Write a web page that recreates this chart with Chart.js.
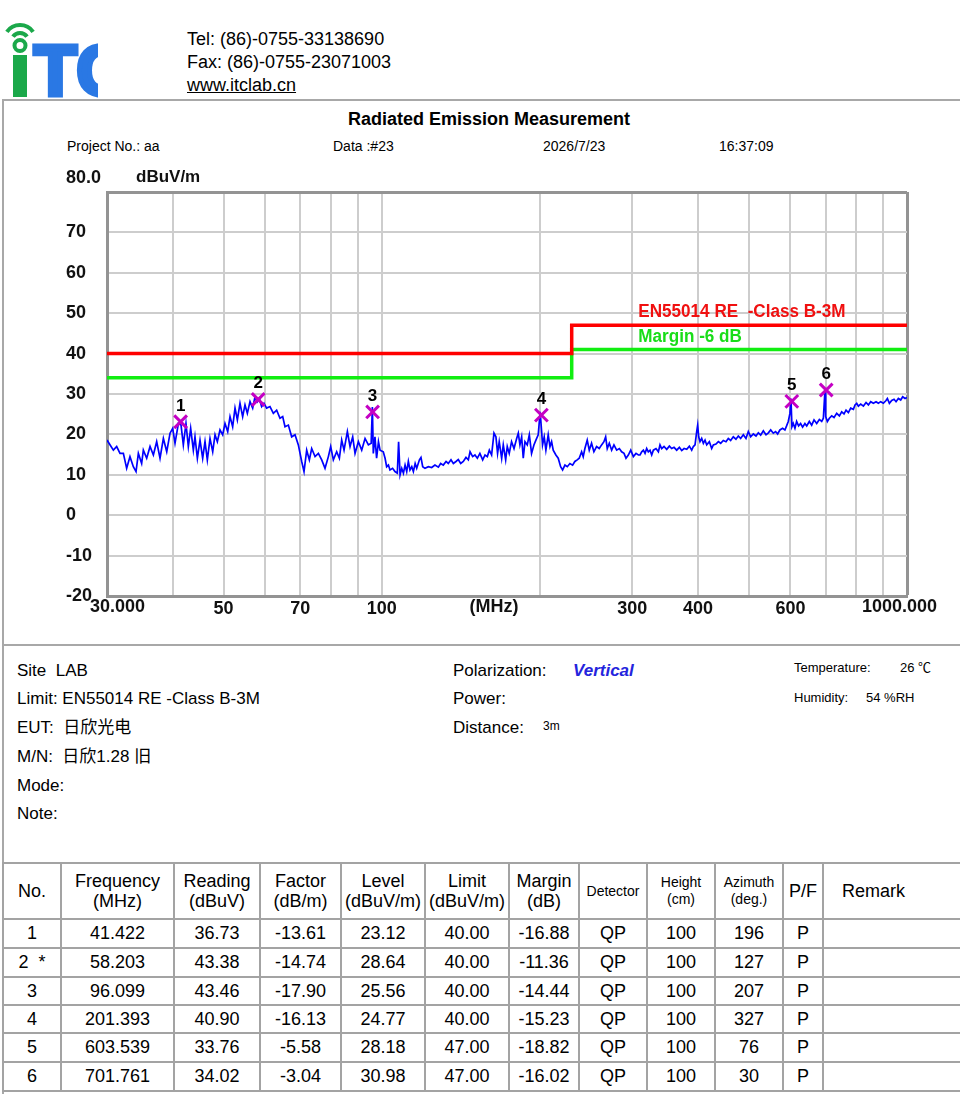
<!DOCTYPE html>
<html>
<head>
<meta charset="utf-8">
<title>Radiated Emission Measurement</title>
<script src="https://cdn.jsdelivr.net/npm/chart.js@4.4.1/dist/chart.umd.min.js"></script>
<style>
  html,body{margin:0;padding:0;background:#fff;}
  #page{position:relative;width:960px;height:1100px;overflow:hidden;font-family:"Liberation Sans","Noto Sans CJK SC",Arial,sans-serif;color:#000;}
  .t{position:absolute;white-space:nowrap;}
  .hline{position:absolute;height:2px;background:#a8a8a8;}
  .vline{position:absolute;width:2px;background:#a8a8a8;}
  #chartCanvas{position:absolute;left:0;top:160px;}
  .info{font-size:17px;line-height:20px;}
  .small{font-size:13px;line-height:16px;}
  table.res{position:absolute;left:2px;top:862px;border-collapse:collapse;table-layout:fixed;width:998px;font-size:18px;}
  table.res td{border:2px solid #a3a3a3;text-align:center;padding:0;vertical-align:middle;white-space:nowrap;overflow:hidden;}
  table.res td.h2{line-height:20px;}
  table.res td.hs{font-size:14px;line-height:17px;}
  table.res td.rm{text-align:left;padding-left:18px;}
</style>
</head>
<body>
<div id="page">
  <!-- logo -->
  <svg class="t" style="left:0;top:0" width="100" height="100" viewBox="0 0 100 100">
    <defs><clipPath id="lc"><rect x="0" y="0" width="98" height="100"/></clipPath></defs>
    <g clip-path="url(#lc)">
      <path d="M 6.9 31.8 A 16 16 0 0 1 33.1 31.8" stroke="#1ba84a" stroke-width="4" fill="none"/>
      <path d="M 13 36.6 A 8.5 8.5 0 0 1 27 36.6" stroke="#1ba84a" stroke-width="4" fill="none"/>
      <circle cx="20" cy="45.5" r="5.5" stroke="#1ba84a" stroke-width="4" fill="none"/>
      <rect x="13" y="55" width="14" height="42" fill="#1ba84a"/>
      <text x="34" y="95" font-family="Liberation Sans" font-weight="bold" font-size="70" fill="#2a78e4" stroke="#2a78e4" stroke-width="5">T</text>
      <text x="76.5" y="95" font-family="Liberation Sans" font-weight="bold" font-size="70" fill="#2a78e4" stroke="#2a78e4" stroke-width="5">C</text>
    </g>
  </svg>
  <div class="t" style="left:187px;top:27.5px;font-size:18px;line-height:23px;">
    Tel: (86)-0755-33138690<br>Fax: (86)-0755-23071003<br><span style="text-decoration:underline;">www.itclab.cn</span>
  </div>

  <!-- frame lines -->
  <div class="hline" style="left:2px;top:99px;width:960px;"></div>
  <div class="vline" style="left:2px;top:99px;height:995px;"></div>
  <div class="hline" style="left:2px;top:644px;width:960px;"></div>

  <div class="t" style="left:348px;top:108.5px;font-size:18px;line-height:21px;font-weight:bold;">Radiated Emission Measurement</div>
  <div class="t" style="left:67px;top:138px;font-size:14px;line-height:16px;">Project No.: aa</div>
  <div class="t" style="left:333px;top:138px;font-size:14px;line-height:16px;">Data :#23</div>
  <div class="t" style="left:543px;top:138px;font-size:14px;line-height:16px;">2026/7/23</div>
  <div class="t" style="left:719px;top:138px;font-size:14px;line-height:16px;">16:37:09</div>

  <canvas id="chartCanvas" width="960" height="480" style="width:960px;height:480px;"></canvas>

  <!-- info -->
  <div class="t info" style="left:17px;top:661px;">Site&nbsp; LAB</div>
  <div class="t info" style="left:17px;top:689px;">Limit: EN55014 RE -Class B-3M</div>
  <div class="t info" style="left:17px;top:718px;">EUT:&nbsp; 日欣光电</div>
  <div class="t info" style="left:17px;top:747px;">M/N:&nbsp; 日欣1.28 旧</div>
  <div class="t info" style="left:17px;top:776px;">Mode:</div>
  <div class="t info" style="left:17px;top:804px;">Note:</div>
  <div class="t info" style="left:453px;top:661px;">Polarization:</div>
  <div class="t info" style="left:573px;top:661px;font-weight:bold;font-style:italic;color:#2424dd;">Vertical</div>
  <div class="t info" style="left:453px;top:689px;">Power:</div>
  <div class="t info" style="left:453px;top:718px;">Distance:</div>
  <div class="t" style="left:543px;top:719px;font-size:12px;line-height:14px;">3m</div>
  <div class="t small" style="left:794px;top:660px;">Temperature:</div>
  <div class="t small" style="left:900px;top:660px;">26 ℃</div>
  <div class="t small" style="left:794px;top:690px;">Humidity:</div>
  <div class="t small" style="left:866px;top:690px;">54 %RH</div>

  <table class="res" id="resTable">
    <colgroup>
      <col style="width:58px"><col style="width:113px"><col style="width:86px"><col style="width:81px">
      <col style="width:84px"><col style="width:84px"><col style="width:70px"><col style="width:68px">
      <col style="width:68px"><col style="width:68px"><col style="width:40px"><col style="width:178px">
    </colgroup>
    <tbody id="resBody">
      <tr style="height:56px">
        <td>No.</td>
        <td class="h2">Frequency<br>(MHz)</td>
        <td class="h2">Reading<br>(dBuV)</td>
        <td class="h2">Factor<br>(dB/m)</td>
        <td class="h2">Level<br>(dBuV/m)</td>
        <td class="h2">Limit<br>(dBuV/m)</td>
        <td class="h2">Margin<br>(dB)</td>
        <td class="hs">Detector</td>
        <td class="hs">Height<br>(cm)</td>
        <td class="hs">Azimuth<br>(deg.)</td>
        <td>P/F</td>
        <td class="rm">Remark</td>
      </tr>
    </tbody>
  </table>
</div>

<script>
// ---------------- data ----------------
const traceFreq = [
  30.0, 30.85, 31.3, 31.76, 32.23, 32.7, 33.18, 33.67, 34.07, 34.42,
  34.92, 35.18, 35.7, 36.23, 36.76, 37.3, 37.85, 38.41, 38.98, 39.55,
  40.01, 40.42, 41.02, 41.5, 41.92, 42.41, 42.85, 43.29, 43.8, 44.12,
  44.58, 45.1, 45.63, 46.1, 46.57, 47.12, 47.68, 48.17, 48.66, 49.23,
  49.81, 50.32, 50.92, 51.44, 52.04, 52.58, 53.12, 53.74, 54.37, 54.93,
  55.5, 56.15, 56.81, 57.39, 57.98, 58.49, 59.09, 59.7, 60.4, 61.29,
  62.2, 63.11, 64.04, 64.8, 65.46, 66.43, 67.4, 68.4, 69.4, 70.43,
  71.15, 71.99, 72.83, 73.58, 74.67, 75.77, 76.88, 78.01, 79.16, 79.97,
  80.91, 82.1, 83.07, 83.92, 84.79, 86.04, 87.05, 88.07, 88.98, 90.29,
  91.62, 92.97, 94.34, 95.5, 96.0, 96.4, 97.1, 97.8, 98.6, 99.3,
  100.7, 101.5, 102.2, 103.0, 103.7, 104.9, 106.0, 107.1, 107.7, 108.4,
  109.2, 110.0, 110.8, 111.6, 112.4, 113.2, 114.1, 114.9, 115.8, 116.6,
  118.0, 118.8, 119.7, 120.9, 122.7, 124.5, 126.3, 128.2, 129.5, 131.0,
  132.6, 133.9, 135.5, 136.9, 138.5, 139.9, 141.4, 143.0, 144.7, 146.2,
  147.3, 149.0, 150.5, 152.1, 153.8, 155.7, 157.3, 158.9, 160.3, 161.9,
  163.6, 165.0, 166.2, 167.4, 169.2, 170.4, 172.2, 173.4, 174.9, 176.7,
  178.6, 180.7, 182.0, 183.3, 184.7, 186.0, 187.4, 189.3, 191.0, 192.9,
  194.9, 196.6, 198.6, 200.3, 201.6, 202.4, 203.9, 205.4, 207.5, 209.1,
  210.6, 212.1, 214.6, 216.8, 219.1, 221.0, 223.3, 225.6, 228.2, 230.9,
  233.2, 235.6, 237.7, 240.2, 241.9, 243.7, 246.2, 248.4, 250.9, 253.5,
  256.5, 259.5, 262.2, 264.9, 266.9, 268.8, 271.2, 274.0, 276.8, 280.1,
  283.4, 286.3, 289.3, 291.8, 294.8, 297.9, 301.4, 304.9, 308.1,
  310.3, 312.6, 314.9, 317.2, 319.5, 321.8, 324.2, 326.6, 329.0, 332.8,
  336.3, 338.7, 341.2, 344.7, 348.8, 352.9, 356.5, 360.2, 364.4, 368.7,
  372.5, 376.4, 380.8, 385.2, 389.2, 392.0, 394.9, 397.8, 399.5, 401.3,
  403.6, 406.6, 409.6, 412.6, 415.6, 420.5, 424.8, 427.9, 432.9, 437.4,
  441.9, 447.0, 452.3, 456.9, 461.6, 467.0, 472.5, 477.4, 482.3, 488.0,
  493.7, 498.8, 504.0, 509.9, 515.9, 521.2, 526.5, 532.7, 539.0, 544.6,
  550.2, 556.5, 562.2, 567.1, 572.9, 579.7, 585.6, 589.9, 594.3, 598.6,
  601.3, 603.9, 607.4, 611.9, 616.4, 621.8, 627.3, 632.8, 639.3, 644.3,
  651.7, 658.5, 665.3, 673.1, 681.0, 688.1, 693.1, 698.3, 700.2, 705.4,
  711.6, 718.9, 726.3, 734.8, 743.5, 751.1, 758.8, 765.5, 773.4, 781.3,
  790.5, 796.3, 802.2, 808.0, 816.4, 826.0, 835.7, 844.3, 852.9, 862.9,
  873.1, 882.1, 891.1, 901.6, 912.2, 917.6, 925.7, 935.2, 944.8, 953.1,
  962.9, 972.8, 981.4, 991.5, 1000
];
const traceLevel = [
  18.6, 16.1, 17.0, 15.3, 15.3, 11.6, 14.5, 12.0, 10.8, 15.3,
  12.8, 16.1, 14.1, 17.0, 14.9, 18.2, 14.1, 19.0, 15.7, 20.3,
  21.5, 17.8, 22.7, 22.3, 17.4, 22.7, 17.0, 21.5, 16.1, 19.4,
  14.1, 18.6, 14.1, 18.2, 13.7, 19.0, 15.7, 19.9, 18.2, 21.1,
  19.9, 22.7, 20.7, 24.4, 21.9, 26.5, 23.6, 27.7, 24.4, 27.3,
  25.2, 28.1, 26.5, 29.3, 28.1, 28.9, 26.9, 27.7, 26.5, 26.9,
  25.2, 26.0, 24.0, 24.4, 21.9, 22.3, 19.4, 19.9, 17.4, 13.3,
  10.8, 16.1, 13.7, 16.5, 14.5, 15.3, 13.7, 11.6, 14.5, 17.0,
  13.7, 15.7, 14.1, 18.6, 16.1, 20.7, 17.0, 19.4, 15.3, 18.2,
  16.1, 19.0, 17.4, 17.8, 26.8, 15.3, 19.4, 14.1, 18.2, 16.1,
  15.7, 14.1, 12.0, 12.4, 11.2, 11.6, 10.8, 10.4, 18.2, 10.0,
  11.6, 10.4, 12.4, 10.8, 13.3, 11.2, 12.0, 10.8, 12.8, 11.6,
  13.7, 14.3, 12.0, 11.6, 12.0, 11.8, 12.4, 11.9, 12.8, 12.4,
  13.3, 12.8, 13.7, 12.8, 13.3, 13.8, 12.8, 13.3, 14.3, 13.7,
  15.7, 14.5, 14.9, 14.1, 15.3, 13.7, 14.9, 14.5, 16.1, 14.9,
  20.3, 19.4, 15.3, 18.2, 14.1, 17.4, 13.7, 17.0, 15.3, 18.2,
  16.5, 19.0, 20.3, 17.4, 19.4, 14.1, 18.2, 17.4, 19.9, 15.3,
  17.4, 18.6, 19.9, 25.6, 20.7, 17.4, 19.4, 16.1, 19.9, 17.0,
  18.2, 16.1, 14.9, 14.1, 12.0, 11.2, 12.4, 12.0, 12.8, 12.4,
  13.3, 13.7, 14.1, 15.7, 14.5, 16.5, 18.6, 16.1, 17.8, 15.7,
  17.0, 16.5, 17.4, 18.2, 19.4, 16.5, 17.8, 16.1, 17.4, 16.1,
  16.5, 15.7, 15.3, 14.1, 14.9, 16.1, 14.5, 15.3, 14.9,
  14.9, 15.7, 16.1, 15.3, 16.5, 15.7, 16.1, 14.9, 16.1, 16.5,
  15.7, 17.4, 16.5, 17.0, 16.3, 17.1, 16.5, 16.8, 16.1, 16.8,
  16.0, 16.5, 16.3, 17.1, 16.1, 17.0, 17.4, 20.7, 22.3, 19.4,
  18.2, 19.0, 17.8, 18.6, 17.4, 18.2, 16.5, 17.4, 17.6, 18.2,
  17.8, 18.5, 18.2, 19.0, 18.5, 19.4, 18.8, 19.6, 19.0, 19.9,
  19.0, 20.7, 19.4, 20.1, 19.6, 20.4, 19.8, 20.9, 19.9, 20.4,
  21.1, 20.3, 20.7, 20.1, 21.1, 21.5, 21.1, 22.1, 23.2, 25.2,
  28.9, 21.9, 22.7, 21.5, 23.2, 22.1, 22.7, 21.8, 22.7, 22.1,
  23.2, 22.3, 23.6, 22.7, 23.7, 23.2, 24.0, 31.4, 24.4, 23.2,
  24.0, 24.6, 24.2, 25.2, 24.6, 25.6, 25.1, 26.0, 25.4, 26.5,
  26.2, 27.3, 27.7, 27.0, 27.5, 27.0, 27.9, 27.3, 28.1, 27.7,
  28.1, 27.7, 28.1, 27.7, 28.4, 28.9, 27.7, 28.4, 28.7, 28.1,
  28.9, 28.5, 29.3, 28.9, 29.1
];
const limitFreq = [30, 230, 230, 1000];
const limitLevel = [40, 40, 47, 47];
const marginFreq = [30, 230, 230, 1000];
const marginLevel = [34, 34, 41, 41];
const markerNo = ['1', '2', '3', '4', '5', '6'];
const markerFreq = [41.422, 58.203, 96.099, 201.393, 603.539, 701.761];
const markerLevel = [23.12, 28.64, 25.56, 24.77, 28.18, 30.98];
const gridFreq = [30, 40, 50, 60, 70, 80, 90, 100, 200, 300, 400, 500, 600, 700, 800, 900, 1000];
const xLabelFreq = [50, 70, 100, 300, 400, 600];
const xLabelText = ['50', '70', '100', '300', '400', '600'];
const xEndLabels = ['30.000', '1000.000'];
const xUnitLabel = '(MHz)';
const yUnitLabel = 'dBuV/m';
const yTopLabel = '80.0';
const limitName = 'EN55014 RE  -Class B-3M';
const marginName = 'Margin -6 dB';

// table data
const tblNo = ['1', '2&nbsp; *', '3', '4', '5', '6'];
const tblFreq = ['41.422', '58.203', '96.099', '201.393', '603.539', '701.761'];
const tblReading = ['36.73', '43.38', '43.46', '40.90', '33.76', '34.02'];
const tblFactor = ['-13.61', '-14.74', '-17.90', '-16.13', '-5.58', '-3.04'];
const tblLevel = ['23.12', '28.64', '25.56', '24.77', '28.18', '30.98'];
const tblLimit = ['40.00', '40.00', '40.00', '40.00', '47.00', '47.00'];
const tblMargin = ['-16.88', '-11.36', '-14.44', '-15.23', '-18.82', '-16.02'];
const tblDetector = ['QP', 'QP', 'QP', 'QP', 'QP', 'QP'];
const tblHeight = ['100', '100', '100', '100', '100', '100'];
const tblAzimuth = ['196', '127', '207', '327', '76', '30'];
const tblPF = ['P', 'P', 'P', 'P', 'P', 'P'];
const rowHeights = [29, 29, 28, 28, 29, 29];

// ---------------- table ----------------
(function buildTable() {
  const body = document.getElementById('resBody');
  for (let i = 0; i < tblFreq.length; i++) {
    const tr = document.createElement('tr');
    tr.style.height = rowHeights[i] + 'px';
    const cells = [tblNo[i], tblFreq[i], tblReading[i], tblFactor[i], tblLevel[i], tblLimit[i],
                   tblMargin[i], tblDetector[i], tblHeight[i], tblAzimuth[i], tblPF[i], ''];
    cells.forEach(c => { const td = document.createElement('td'); td.innerHTML = c; tr.appendChild(td); });
    body.appendChild(tr);
  }
})();

// ---------------- chart ----------------
const FONT = '"Liberation Sans", Arial, sans-serif';

function drawNarrow(ctx, text, x, y, color) {
  ctx.save();
  ctx.translate(x, y);
  ctx.scale(0.95, 1);
  ctx.fillStyle = color;
  ctx.font = 'bold 18px ' + FONT;
  ctx.textAlign = 'left';
  ctx.textBaseline = 'alphabetic';
  ctx.fillText(text, 0, 0);
  ctx.restore();
}

const labelPlugin = {
  id: 'emiLabels',
  afterDatasetsDraw(chart) {
    const ctx = chart.ctx, xs = chart.scales.x, ys = chart.scales.y;
    ctx.save();
    ctx.fillStyle = '#000';
    ctx.font = 'bold 17px ' + FONT;
    ctx.textAlign = 'center';
    ctx.textBaseline = 'alphabetic';
    chart.getDatasetMeta(0).data.forEach((pt, i) => ctx.fillText(markerNo[i], pt.x, pt.y - 11));
    ctx.restore();
    const lx = xs.getPixelForValue(308);
    drawNarrow(ctx, limitName, lx, ys.getPixelForValue(limitLevel[3]) - 8, '#f01010');
    drawNarrow(ctx, marginName, lx, ys.getPixelForValue(marginLevel[3]) - 8, '#18dd18');
  },
  afterDraw(chart) {
    const ctx = chart.ctx, a = chart.chartArea, xs = chart.scales.x;
    ctx.save();
    ctx.fillStyle = '#111';
    ctx.font = 'bold 18px ' + FONT;
    ctx.textAlign = 'left';
    ctx.textBaseline = 'middle';
    ctx.fillText(yTopLabel, a.left - 41, a.top - 14);
    ctx.font = 'bold 17px ' + FONT;
    ctx.fillText(yUnitLabel, a.left + 29, a.top - 15);
    ctx.font = 'bold 18px ' + FONT;
    ctx.textBaseline = 'top';
    ctx.fillText(xEndLabels[0], a.left - 17, a.bottom + 2);
    ctx.textAlign = 'center';
    ctx.fillText(xUnitLabel, xs.getPixelForValue(163.6), a.bottom + 2);
    ctx.textAlign = 'right';
    ctx.fillText(xEndLabels[1], a.right + 30, a.bottom + 2);
    ctx.restore();
  }
};

const toXY = (fs, ls) => fs.map((f, i) => ({ x: f, y: ls[i] }));
const GRID = '#cdcdcd', EDGE = '#939393';

new Chart(document.getElementById('chartCanvas'), {
  type: 'scatter',
  data: {
    datasets: [
      { label: 'markers', data: toXY(markerFreq, markerLevel), showLine: false, order: 0,
        pointStyle: 'crossRot', pointRadius: 9, pointBorderWidth: 3,
        borderColor: '#c400c4', backgroundColor: '#c400c4', pointBorderColor: '#c400c4' },
      { label: 'trace', data: toXY(traceFreq, traceLevel), showLine: true, order: 1,
        borderColor: '#0000ff', borderWidth: 1.7, pointRadius: 0, tension: 0 },
      { label: 'limit', data: toXY(limitFreq, limitLevel), showLine: true, order: 2,
        borderColor: '#ff0000', borderWidth: 3.5, pointRadius: 0, tension: 0 },
      { label: 'margin', data: toXY(marginFreq, marginLevel), showLine: true, order: 3,
        borderColor: '#11ee11', borderWidth: 3.5, pointRadius: 0, tension: 0 }
    ]
  },
  options: {
    responsive: false,
    animation: false,
    layout: { padding: { left: 66, right: 53, top: 32, bottom: 4 } },
    plugins: { legend: { display: false }, tooltip: { enabled: false } },
    scales: {
      x: {
        type: 'logarithmic', min: 30, max: 1000,
        afterBuildTicks: s => { s.ticks = gridFreq.map(v => ({ value: v })); },
        afterFit: s => { s.height = 40; },
        ticks: {
          autoSkip: false, maxRotation: 0, minRotation: 0, padding: 2, color: '#111',
          font: { family: FONT, size: 18, weight: 'bold' },
          callback: v => { const i = xLabelFreq.indexOf(v); return i >= 0 ? xLabelText[i] : ''; }
        },
        grid: {
          drawTicks: false,
          color: c => (c.tick && c.tick.value === 1000) ? EDGE : GRID,
          lineWidth: c => (c.tick && c.tick.value === 1000) ? 3 : 2
        },
        border: { display: true, color: EDGE, width: 3 }
      },
      y: {
        min: -20, max: 80,
        afterFit: s => { s.width = 41; },
        ticks: {
          stepSize: 10, crossAlign: 'far', padding: 0, color: '#111',
          font: { family: FONT, size: 18, weight: 'bold' },
          callback: v => v === 80 ? '' : String(v)
        },
        grid: {
          drawTicks: false,
          color: c => (c.tick && c.tick.value === 80) ? EDGE : GRID,
          lineWidth: c => (c.tick && c.tick.value === 80) ? 3 : 2
        },
        border: { display: true, color: EDGE, width: 3 }
      }
    }
  },
  plugins: [labelPlugin]
});
</script>
</body>
</html>
